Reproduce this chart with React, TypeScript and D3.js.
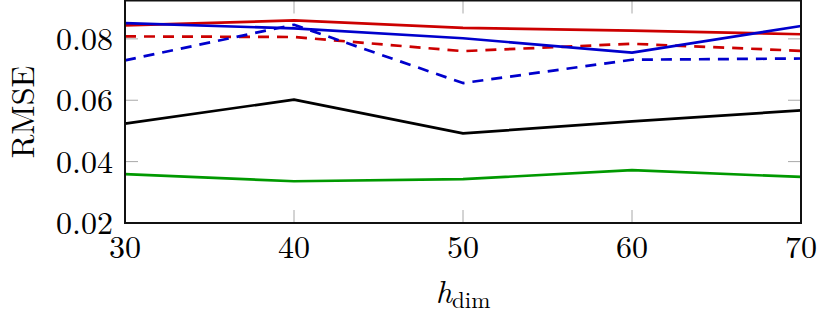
import { useEffect, useRef } from "react";
import * as d3 from "d3";

const hDims = [30, 40, 50, 60, 70];
const yTicks = [0.02, 0.04, 0.06, 0.08];

const blackSeries = [0.0524, 0.0602, 0.0492, 0.0531, 0.0567];
const greenSeries = [0.0359, 0.0336, 0.0343, 0.0372, 0.0350];
const redSolid = [0.0844, 0.0860, 0.0836, 0.0827, 0.0815];
const redDashed = [0.0808, 0.0806, 0.0760, 0.0784, 0.0761];
const blueSolid = [0.0851, 0.0834, 0.0802, 0.0755, 0.0842];
const blueDashed = [0.0730, 0.0846, 0.0656, 0.0732, 0.0736];

const series = [
  { values: blackSeries, color: "#000000", dash: null },
  { values: greenSeries, color: "#009900", dash: null },
  { values: redSolid, color: "#cc0000", dash: null },
  { values: redDashed, color: "#cc0000", dash: "11,8" },
  { values: blueSolid, color: "#0000cc", dash: null },
  { values: blueDashed, color: "#0000cc", dash: "11,8" },
];

export default function App() {
  const svgRef = useRef<SVGSVGElement | null>(null);

  useEffect(() => {
    if (!svgRef.current) return;
    const width = 829;
    const height = 318;
    const left = 125, right = 801, top = 0.5, bottom = 223;
    const font = "'Latin Modern Roman', 'Liberation Serif', serif";

    const svg = d3.select(svgRef.current);
    svg.selectAll("*").remove();
    svg.attr("width", width).attr("height", height);

    const x = d3.scaleLinear().domain([30, 70]).range([left, right]);
    const y = d3.scaleLinear().domain([0.02, 0.0925]).range([bottom, top]);

    // inside ticks on all four sides
    const tickLen = 13;
    const ticks = svg.append("g").attr("stroke", "#a8a8a8").attr("stroke-width", 1);
    hDims.slice(1, -1).forEach(d => {
      ticks.append("line").attr("x1", x(d)).attr("x2", x(d)).attr("y1", bottom).attr("y2", bottom - tickLen);
      ticks.append("line").attr("x1", x(d)).attr("x2", x(d)).attr("y1", top).attr("y2", top + tickLen);
    });
    yTicks.slice(1).forEach(d => {
      ticks.append("line").attr("x1", left).attr("x2", left + tickLen).attr("y1", y(d)).attr("y2", y(d));
      ticks.append("line").attr("x1", right).attr("x2", right - tickLen).attr("y1", y(d)).attr("y2", y(d));
    });

    const line = d3.line<number>()
      .x((_, i) => x(hDims[i]))
      .y(d => y(d));

    const g = svg.append("g");
    series.forEach(s => {
      g.append("path")
        .datum(s.values)
        .attr("d", line)
        .attr("fill", "none")
        .attr("stroke", s.color)
        .attr("stroke-width", 2.7)
        .attr("stroke-linejoin", "round")
        .attr("stroke-dasharray", s.dash);
    });

    svg.append("rect")
      .attr("x", left)
      .attr("y", top)
      .attr("width", right - left)
      .attr("height", bottom - top)
      .attr("fill", "none")
      .attr("stroke", "#111")
      .attr("stroke-width", 2);

    // x tick labels
    svg.append("g").selectAll("text").data(hDims).join("text")
      .attr("x", d => x(d))
      .attr("y", 258)
      .attr("text-anchor", "middle")
      .attr("font-family", font)
      .attr("font-size", 32)
      .text(d => d);

    // y tick labels
    svg.append("g").selectAll("text").data(yTicks).join("text")
      .attr("x", 113)
      .attr("y", d => y(d) + 11)
      .attr("text-anchor", "end")
      .attr("font-family", font)
      .attr("font-size", 32)
      .text(d => d.toFixed(2));

    svg.append("text")
      .attr("transform", `translate(34,${(67 + 157) / 2}) rotate(-90)`)
      .attr("text-anchor", "middle")
      .attr("font-family", font)
      .attr("font-size", 32)
      .text("RMSE");

    const xl = svg.append("text")
      .attr("x", 463)
      .attr("y", 303)
      .attr("text-anchor", "middle")
      .attr("font-family", font)
      .attr("font-size", 32);
    xl.append("tspan").attr("font-style", "italic").text("h");
    xl.append("tspan").attr("font-size", 23).attr("dy", 5).text("dim");
  }, []);

  return (
    <svg
      ref={svgRef}
      style={{ position: "absolute", left: 0, top: 0, display: "block", background: "#fff" }}
    />
  );
}
